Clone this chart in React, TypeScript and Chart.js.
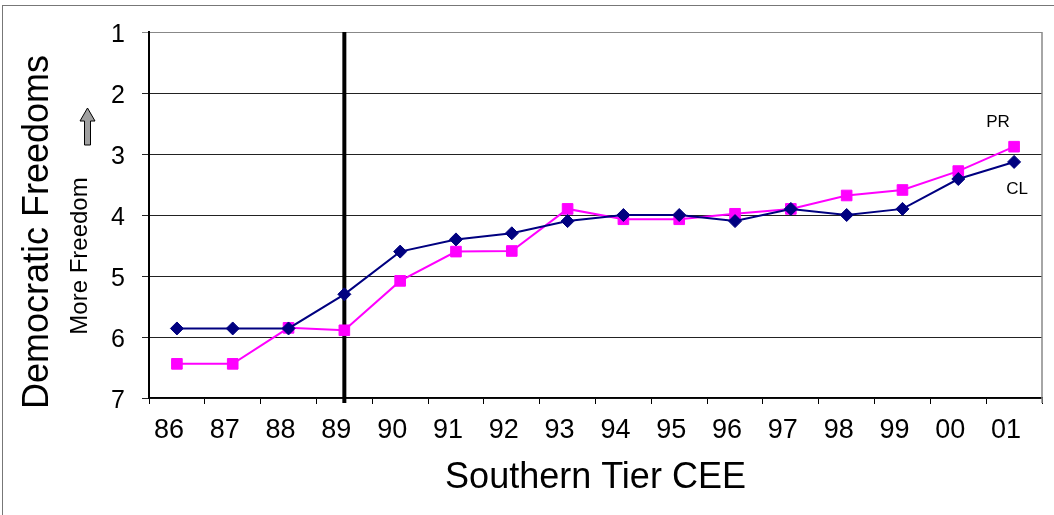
import React, { useEffect, useRef } from 'react';
import { Chart, registerables } from 'chart.js';

Chart.register(...registerables);

const years = ['86', '87', '88', '89', '90', '91', '92', '93', '94', '95', '96', '97', '98', '99', '00', '01'];
const clValues = [5.86, 5.86, 5.86, 5.3, 4.6, 4.4, 4.3, 4.1, 4.0, 4.0, 4.1, 3.9, 4.0, 3.9, 3.41, 3.13];
const prValues = [6.44, 6.44, 5.85, 5.89, 5.08, 4.6, 4.59, 3.9, 4.07, 4.07, 3.98, 3.9, 3.68, 3.59, 3.28, 2.88];
const yMin = 1;
const yMax = 7;
const markerYear = '89';
const xTitle = 'Southern Tier CEE';
const yTitle = 'Democratic Freedoms';
const ySubTitle = 'More Freedom';
const clLabel = 'CL';
const prLabel = 'PR';

const FONT = "'Liberation Sans', Arial, sans-serif";

const decorations = {
  id: 'decorations',
  beforeDraw(chart: any) {
    const { ctx, width, height } = chart;
    ctx.save();
    ctx.fillStyle = '#ffffff';
    ctx.fillRect(0, 0, width, height);
    ctx.strokeStyle = '#777777';
    ctx.lineWidth = 1;
    ctx.strokeRect(2.5, 5.5, width + 50, height + 50);
    ctx.restore();
  },
  beforeDatasetsDraw(chart: any) {
    const { ctx, chartArea } = chart;
    const xs = chart.scales.x;
    const x = xs.getPixelForValue(years.indexOf(markerYear));
    ctx.save();
    ctx.strokeStyle = '#000000';
    ctx.lineWidth = 4;
    ctx.beginPath();
    ctx.moveTo(x, chartArea.top);
    ctx.lineTo(x, chartArea.bottom + 5);
    ctx.stroke();
    ctx.restore();
  },
  afterDraw(chart: any) {
    const { ctx, chartArea } = chart;
    ctx.save();
    // right border of plot area
    ctx.strokeStyle = '#888888';
    ctx.lineWidth = 1.5;
    ctx.beginPath();
    ctx.moveTo(chartArea.right, chartArea.top);
    ctx.lineTo(chartArea.right, chartArea.bottom + 5);
    ctx.stroke();

    // y titles
    ctx.fillStyle = '#000000';
    ctx.textAlign = 'center';
    ctx.textBaseline = 'alphabetic';
    ctx.save();
    ctx.translate(48, 232);
    ctx.rotate(-Math.PI / 2);
    ctx.font = `36px ${FONT}`;
    ctx.fillText(yTitle, 0, 0);
    ctx.restore();

    ctx.save();
    ctx.translate(87, 256);
    ctx.rotate(-Math.PI / 2);
    ctx.font = `24px ${FONT}`;
    ctx.fillText(ySubTitle, 0, 0);
    ctx.restore();

    // arrow
    const cx = 87.5;
    ctx.beginPath();
    ctx.moveTo(cx, 108);
    ctx.lineTo(cx + 7.5, 121);
    ctx.lineTo(cx + 3, 121);
    ctx.lineTo(cx + 3, 145);
    ctx.lineTo(cx - 3, 145);
    ctx.lineTo(cx - 3, 121);
    ctx.lineTo(cx - 7.5, 121);
    ctx.closePath();
    ctx.fillStyle = '#a0a0a0';
    ctx.fill();
    ctx.strokeStyle = '#000000';
    ctx.lineWidth = 1;
    ctx.stroke();

    // series labels
    const last = years.length - 1;
    const clPt = chart.getDatasetMeta(0).data[last];
    const prPt = chart.getDatasetMeta(1).data[last];
    ctx.fillStyle = '#000000';
    ctx.font = `17px ${FONT}`;
    ctx.textAlign = 'center';
    ctx.textBaseline = 'middle';
    if (prPt) ctx.fillText(prLabel, prPt.x - 16, prPt.y - 24);
    if (clPt) ctx.fillText(clLabel, clPt.x + 3, clPt.y + 27);
    ctx.restore();
  },
};

export default function App() {
  const canvasRef = useRef<HTMLCanvasElement | null>(null);

  useEffect(() => {
    const canvas = canvasRef.current;
    if (!canvas) return;
    const chart = new Chart(canvas, {
      type: 'line',
      data: {
        labels: years,
        datasets: [
          {
            label: clLabel,
            data: clValues,
            borderColor: '#000080',
            backgroundColor: '#000080',
            borderWidth: 2,
            pointStyle: 'rectRot',
            pointRadius: 6.5,
            pointBorderWidth: 1,
            pointBackgroundColor: '#000080',
            pointBorderColor: '#000080',
            tension: 0,
          },
          {
            label: prLabel,
            data: prValues,
            borderColor: '#ff00ff',
            backgroundColor: '#ff00ff',
            borderWidth: 2,
            pointStyle: 'rect',
            pointRadius: 7.5,
            pointBorderWidth: 1,
            pointBackgroundColor: '#ff00ff',
            pointBorderColor: '#ff00ff',
            tension: 0,
          },
        ],
      },
      options: {
        animation: false,
        responsive: false,
        maintainAspectRatio: false,
        layout: { padding: { top: 28, right: 12, left: 0, bottom: 0 } },
        plugins: {
          legend: { display: false },
          tooltip: { enabled: false },
          title: { display: false },
        },
        scales: {
          x: {
            type: 'category',
            offset: true,
            grid: {
              display: true,
              offset: true,
              drawOnChartArea: false,
              drawTicks: true,
              tickLength: 6,
              color: '#000000',
            },
            border: { display: true, color: '#000000', width: 1.5 },
            ticks: {
              color: '#000000',
              font: { family: FONT, size: 27 },
              padding: 10,
              labelOffset: -8,
              maxRotation: 0,
              autoSkip: false,
            },
            title: {
              display: true,
              text: xTitle,
              color: '#000000',
              font: { family: FONT, size: 36 },
              padding: { top: 0, bottom: 15 },
            },
            afterFit(scale: any) {
              scale.height = 117;
            },
          },
          y: {
            reverse: true,
            min: yMin,
            max: yMax,
            grid: {
              display: true,
              drawOnChartArea: true,
              drawTicks: true,
              tickLength: 7,
              color: (c: any) => (c.tick && c.tick.value === yMin ? '#888888' : '#222222'),
            },
            border: { display: true, color: '#000000', width: 2 },
            ticks: {
              stepSize: 1,
              color: '#000000',
              font: { family: FONT, size: 25 },
              padding: 17,
              labelOffset: 3,
            },
            afterFit(scale: any) {
              scale.width = 149;
            },
          },
        },
      },
      plugins: [decorations],
    });
    return () => chart.destroy();
  }, []);

  return (
    <div style={{ position: 'fixed', left: 0, top: 0, width: 1054, height: 515, background: '#fff' }}>
      <canvas ref={canvasRef} width={1054} height={515} style={{ width: 1054, height: 515, display: 'block' }} />
    </div>
  );
}
